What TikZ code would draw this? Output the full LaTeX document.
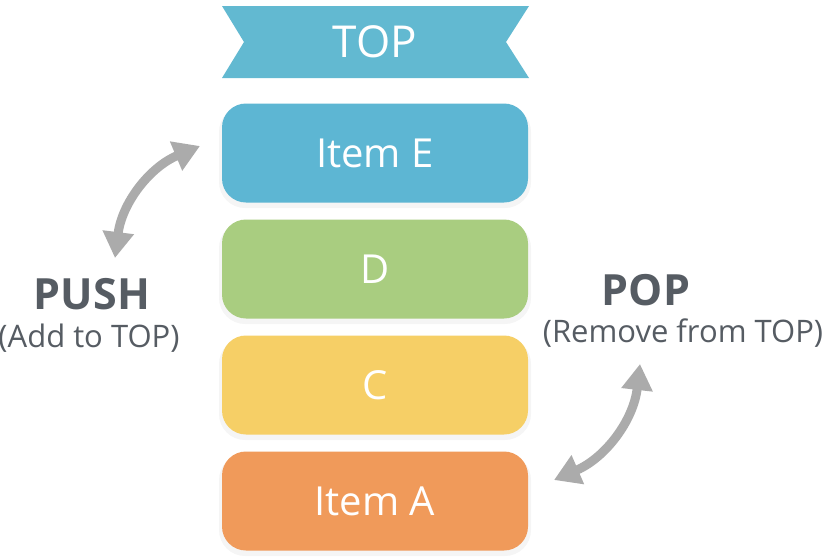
\documentclass[tikz,border=0pt]{standalone}
\usepackage{fontspec}
\setmainfont{Open Sans}
\usetikzlibrary{arrows.meta}
\definecolor{bannerc}{HTML}{62B9D1}
\definecolor{ec}{HTML}{5DB6D3}
\definecolor{dc}{HTML}{A9CD80}
\definecolor{cc}{HTML}{F6CF66}
\definecolor{ac}{HTML}{F09A5A}
\definecolor{labc}{HTML}{565C63}
\definecolor{arrc}{HTML}{ABABAB}
\tikzset{
  item/.style={rounded corners=24pt, minimum width=306pt, minimum height=99pt, text=white, font=\fontsize{40}{46}\selectfont},
  lab/.style={text=labc},
  dbl/.style={draw=arrc, line width=9pt, {Triangle[width=30pt,length=26pt]}-{Triangle[width=30pt,length=26pt]}}
}
\begin{document}
\begin{tikzpicture}[x=1pt,y=-1pt]
\useasboundingbox (0,0) rectangle (825,558);
\fill[white] (0,0) rectangle (825,558);
% banner
\fill[bannerc] (222,6) -- (529,6) -- (506,42) -- (529,78) -- (222,78) -- (244,42) -- cycle;
\node[text=white, font=\fontsize{44}{50}\selectfont] (top) at (375,42) {TOP};
\foreach \yy in {153,269,385,501}{
  \fill[black, opacity=0.04, rounded corners=26pt] (219,\yy-47) rectangle (531,\yy+55);
}
\node[item, fill=ec] (e) at (375,153) {Item E};
\node[item, fill=dc] (d) at (375,269) {D};
\node[item, fill=cc] (c) at (375,385) {C};
\node[item, fill=ac] (a) at (375,501) {Item A};
\node[lab, font=\fontsize{43}{48}\selectfont\bfseries] (push) at (92,294) {PUSH};
\node[lab, font=\fontsize{31}{36}\selectfont] (pushs) at (89,338) {(Add to TOP)};
\node[lab, font=\fontsize{43}{48}\selectfont\bfseries] (pop) at (646,290) {POP};
\node[lab, font=\fontsize{31}{36}\selectfont] (pops) at (683,333) {(Remove from TOP)};
\coordinate (p1) at (115,258);
\coordinate (p2) at (200,146);
\coordinate (q1) at (554,480);
\coordinate (q2) at (640,364);
\draw[dbl] (p1) to[bend left=30] (p2);
\draw[dbl] (q1) to[bend right=30] (q2);
\end{tikzpicture}
\end{document}
